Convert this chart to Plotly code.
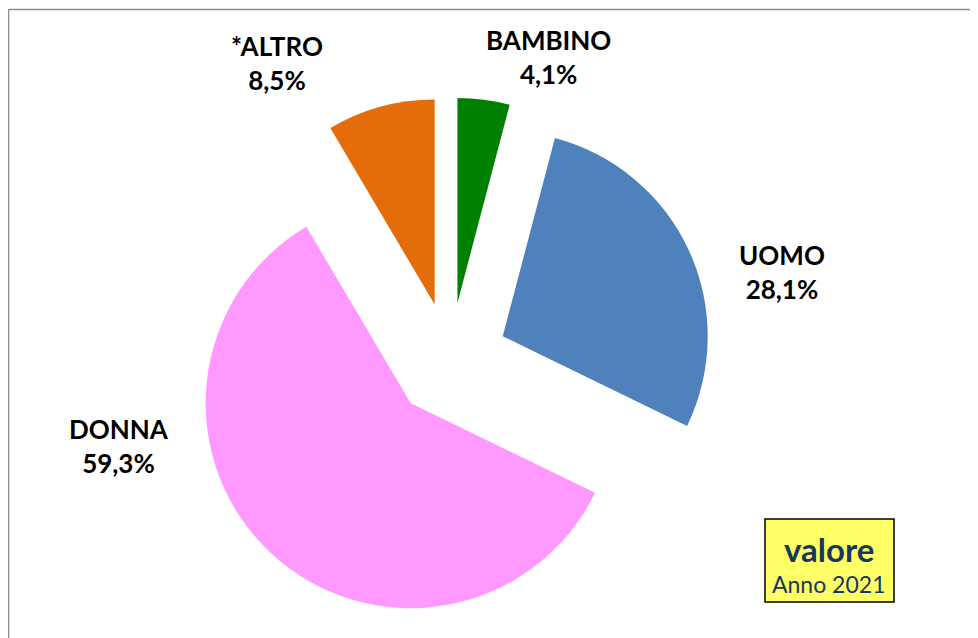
import plotly.graph_objects as go

# ---- data ----
categories = ["BAMBINO", "UOMO", "DONNA", "*ALTRO"]
values = [4.1, 28.1, 59.3, 8.5]
colors = ["#008000", "#4F81BD", "#FF99FF", "#E46C0A"]
box_title = "valore"
box_subtitle = "Anno 2021"

W, H = 970, 630
OFF = 8  # page body margin

def px(x):
    return (x - OFF) / W

def py(y):
    return 1 - (y - OFF) / H

def fmt(v):
    return f"{v:.1f}".replace(".", ",") + "%"

# label positions (pixel centres of each two-line label, page coords)
label_pos = {
    "BAMBINO": (548, 57),
    "UOMO": (782, 272),
    "DONNA": (119, 446),
    "*ALTRO": (277, 63),
}

fig = go.Figure()
fig.add_trace(go.Pie(
    labels=categories,
    values=values,
    sort=False,
    direction="clockwise",
    rotation=0,
    pull=[0.283] * len(values),
    marker=dict(colors=colors, line=dict(width=0)),
    textinfo="none",
    hoverinfo="label+percent",
    showlegend=False,
    domain=dict(x=[px(187), px(713)], y=[py(623.5), py(97.5)]),
))

font_family = "Lato, 'Open Sans', sans-serif"
annotations = []
for lab, v in zip(categories, values):
    x, y = label_pos[lab]
    annotations.append(dict(
        x=px(x), y=py(y), xref="paper", yref="paper",
        text=f"<b>{lab}<br>{fmt(v)}</b>",
        showarrow=False, xanchor="center", yanchor="middle",
        font=dict(family=font_family, size=26, color="#000000"),
        align="center",
    ))

annotations.append(dict(
    x=px(829), y=py(549), xref="paper", yref="paper",
    text=f"<b>{box_title}</b>", showarrow=False,
    xanchor="center", yanchor="middle",
    font=dict(family=font_family, size=33, color="#17375E"),
))
annotations.append(dict(
    x=px(828), y=py(584), xref="paper", yref="paper",
    text=box_subtitle, showarrow=False,
    xanchor="center", yanchor="middle",
    font=dict(family=font_family, size=23, color="#17375E"),
))

border = dict(color="#8C8C8C", width=1.5)
shapes = [
    dict(type="line", xref="paper", yref="paper",
         x0=px(8.5), x1=1.2, y0=py(9.5), y1=py(9.5), line=border, layer="below"),
    dict(type="line", xref="paper", yref="paper",
         x0=px(8.5), x1=px(8.5), y0=-0.2, y1=py(9.5), line=border, layer="below"),
    dict(type="rect", xref="paper", yref="paper",
         x0=px(765), x1=px(894), y0=py(602), y1=py(519),
         line=dict(color="#000000", width=1.5), fillcolor="#FFFF66", layer="below"),
]

fig.update_layout(
    width=W, height=H,
    margin=dict(l=0, r=0, t=0, b=0),
    paper_bgcolor="#FFFFFF",
    plot_bgcolor="#FFFFFF",
    annotations=annotations,
    shapes=shapes,
)

fig.write_html(
    "out.html",
    config={"displayModeBar": False},
    post_script="document.documentElement.style.overflow='hidden';document.body.style.overflow='hidden';",
)
